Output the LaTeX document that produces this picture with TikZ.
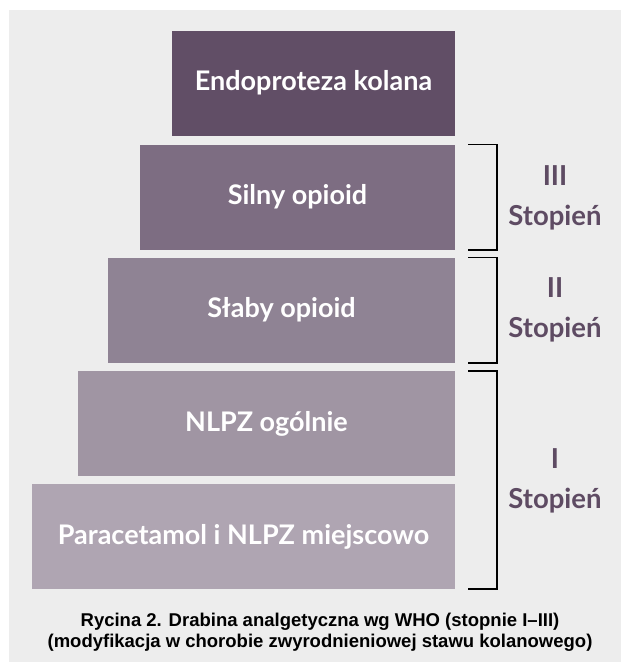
\documentclass[tikz,border=0pt]{standalone}
\usepackage{fontspec}
\setmainfont{Lato}
\newfontfamily\capfont{Liberation Sans}
\usetikzlibrary{positioning}

\definecolor{bggray}{HTML}{EDEDED}
\definecolor{rungA}{HTML}{614E66}
\definecolor{rungB}{HTML}{7D6D82}
\definecolor{rungC}{HTML}{8F8394}
\definecolor{rungD}{HTML}{A095A3}
\definecolor{rungE}{HTML}{AFA5B2}
\definecolor{gradetext}{HTML}{5E4B63}

\tikzset{
  rung/.style={rectangle, inner sep=0pt, minimum height=105pt, text=white,
    font=\bfseries\fontsize{27}{30}\selectfont},
  bracket/.style={draw=black, line width=1.6pt},
  grade/.style={align=center, text=gradetext, inner sep=0pt,
    font=\bfseries\fontsize{27.5}{40}\selectfont},
  caption/.style={align=center, text=black, inner sep=0pt,
    font=\capfont\bfseries\fontsize{18.5}{21.5}\selectfont}
}

\begin{document}
\begin{tikzpicture}[x=1pt, y=-1pt]
\useasboundingbox (0,0) rectangle (621,662);
\fill[bggray] (9,10) rectangle (621,662);

% ladder
\node[rung, fill=rungA, minimum width=283pt] (endo) at (313.5,83)    {Endoproteza kolana};
\node[rung, fill=rungB, minimum width=315pt] (silny) at (297.5,197)  {Silny opioid};
\node[rung, fill=rungC, minimum width=347pt] (slaby) at (281.5,310)  {Słaby opioid};
\node[rung, fill=rungD, minimum width=377pt] (nlpz) at (266.5,423.5) {NLPZ ogólnie};
\node[rung, fill=rungE, minimum width=423pt] (para) at (243.5,536.5) {Paracetamol i NLPZ miejscowo};

% brackets
\draw[bracket] ([xshift=13pt]silny.north east) -- ++(29,0) |- ([xshift=13pt]silny.south east);
\draw[bracket] ([xshift=13pt]slaby.north east) -- ++(29,0) |- ([xshift=13pt]slaby.south east);
\draw[bracket] ([xshift=13pt]nlpz.north east) -- ++(29,0) |- ([xshift=13pt]para.south east);

\node[grade] (g3) at (555,198) {III\\Stopień};
\node[grade] (g2) at (555,310) {II\\Stopień};
\node[grade] (g1) at (555,481) {I\\Stopień};

\node[caption] (cap) at (320,632) {Rycina 2. Drabina analgetyczna wg WHO (stopnie I–III)\\(modyfikacja w chorobie zwyrodnieniowej stawu kolanowego)};
\end{tikzpicture}
\end{document}
